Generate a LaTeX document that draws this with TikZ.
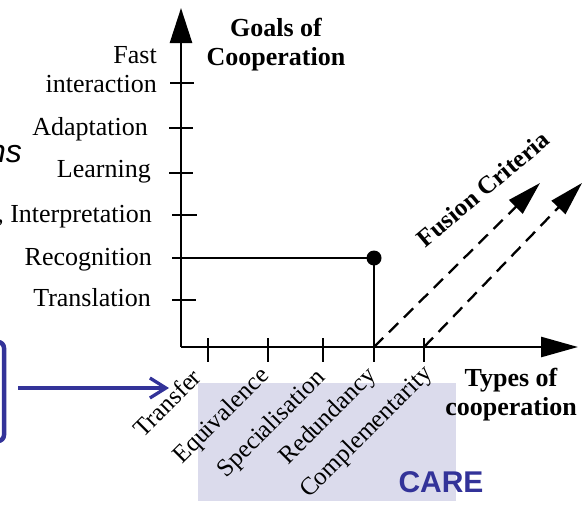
\documentclass[tikz,border=0pt]{standalone}
\usepackage{fontspec}
\setmainfont{Liberation Serif}
\newfontfamily\arialfont{Liberation Sans}
\usetikzlibrary{arrows.meta}
\definecolor{slideblue}{RGB}{51,51,153}
\definecolor{lav}{RGB}{219,219,236}
\begin{document}
\begin{tikzpicture}[x=1pt,y=-1pt,
  axisline/.style={line width=2.6pt},
  tickmark/.style={line width=2.4pt},
  lab/.style={font=\fontsize{26}{28.5}\selectfont, inner sep=0pt},
  blab/.style={font=\bfseries\fontsize{26}{28.5}\selectfont, inner sep=0pt, align=center},
  rlab/.style={font=\fontsize{25}{28}\selectfont, inner sep=0pt, rotate=45, anchor=base east},
  dasharrow/.style={line width=2.3pt, dash pattern=on 13pt off 8pt, -{Triangle[length=34pt,width=19pt]}},
]
\useasboundingbox (0,0) rectangle (583,506);
\clip (0,0) rectangle (583,506);

% CARE background
\fill[lav] (198,383) rectangle (456,501);
\node[font=\arialfont\bfseries\fontsize{30}{30}\selectfont, text=slideblue, inner sep=0pt] (care) at (441,482) {CARE};

% left slide fragments
\draw[slideblue, line width=4.5pt, rounded corners=6pt] (-40,342) rectangle (4,441);
\node[font=\arialfont\itshape\fontsize{32}{32}\selectfont, inner sep=0pt, anchor=base east] (ns) at (22,162) {ns};

% axes
\coordinate (O) at (181,347);
\coordinate (ytip) at (181,8);
\coordinate (xtip) at (578,347);
\draw[axisline, -{Triangle[length=35pt,width=22pt]}] (O) -- (ytip);
\draw[axisline, -{Triangle[length=37pt,width=20pt]}] (O) -- (xtip);

% y ticks and labels
\draw[tickmark] (170,83) -- (194,83);
\draw[tickmark] (169,128) -- (193,128);
\draw[tickmark] (169,173) -- (193,173);
\draw[tickmark] (172,215) -- (197,215);
\draw[tickmark] (172,300) -- (196,300);

\node[lab, anchor=base east, align=right] (fast) at (157,92) {Fast\\interaction};
\node[lab, anchor=base east] (adapt) at (148,135) {Adaptation};
\node[lab, anchor=base east] (learn) at (151,177) {Learning};
\node[lab, anchor=base east] (interp) at (152,222) {, Interpretation};
\node[lab, anchor=base east] (recog) at (152,265) {Recognition};
\node[lab, anchor=base east] (transl) at (151,306) {Translation};

% recognition line and dot
\node[circle, fill=black, minimum size=15pt, inner sep=0pt] (dot) at (374,258) {};
\coordinate (rl) at (172,258);
\coordinate (red) at (374,347);
\draw[axisline] (rl) -- (dot.center);
\draw[axisline] (dot.center) -- (red);

% x ticks
\foreach \x in {208,268,323,374,424} \draw[tickmark] (\x,338) -- (\x,362);

% rotated labels
\node[rlab] (transfer) at (203,379) {Transfer};
\node[rlab] (equiv) at (270,377) {Equivalence};
\node[rlab] (spec) at (326,379) {Specialisation};
\node[rlab] (redund) at (377,377) {Redundancy};
\node[rlab] (compl) at (433,375) {Complementarity};

% fusion criteria
\coordinate (c1) at (424,347);
\coordinate (t1) at (540,183);
\coordinate (t2) at (582,183);
\draw[dasharrow] (red) -- (t1);
\draw[dasharrow] (c1) -- (t2);
\node[font=\bfseries\fontsize{25}{25}\selectfont, rotate=40, inner sep=0pt] (fusion) at (483,189) {Fusion Criteria};

% axis titles
\node[blab, anchor=base] (goals) at (276,65) {Goals of\\Cooperation};
\node[blab, anchor=base] (types) at (511,415) {Types of\\cooperation};

% blue arrow
\coordinate (ba) at (18,388);
\coordinate (bb) at (169,388);
\draw[slideblue, line width=3.3pt, -{Straight Barb[length=16pt,width=20pt]}] (ba) -- (bb);
\end{tikzpicture}
\end{document}
